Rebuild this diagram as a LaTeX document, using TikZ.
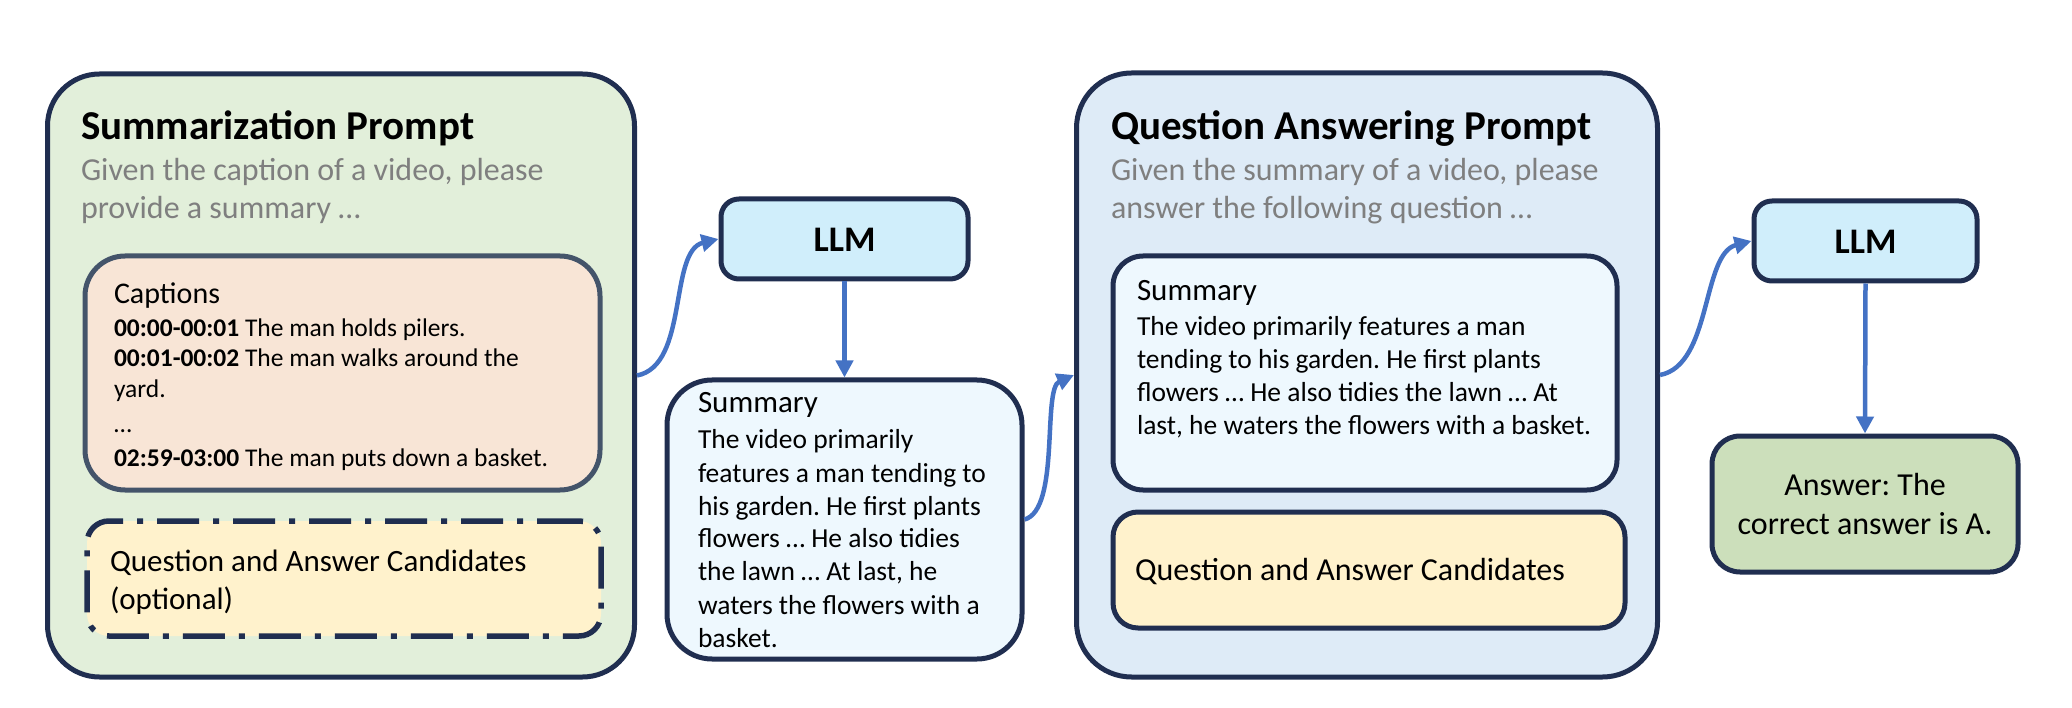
\documentclass[tikz,border=0pt]{standalone}
\usepackage{fontspec}
\setmainfont{Carlito}
\usetikzlibrary{arrows.meta}
\definecolor{navy}{RGB}{32,46,80}
\definecolor{greenfill}{RGB}{226,239,218}
\definecolor{peach}{RGB}{248,229,214}
\definecolor{peachline}{RGB}{68,84,106}
\definecolor{yellowfill}{RGB}{255,242,204}
\definecolor{llmfill}{RGB}{208,238,251}
\definecolor{sumfill}{RGB}{238,248,254}
\definecolor{qafill}{RGB}{222,235,247}
\definecolor{ansfill}{RGB}{204,223,187}
\definecolor{arrowblue}{RGB}{68,114,196}
\definecolor{greytext}{RGB}{127,127,127}
\newcommand{\fsz}[1]{\fontsize{#1}{#1}\selectfont}
\tikzset{
  box/.style={draw=navy, line width=5pt, inner sep=0pt},
  txt/.style={anchor=base west, inner sep=0pt, outer sep=0pt},
  ctxt/.style={anchor=base, inner sep=0pt, outer sep=0pt},
  arr/.style={draw=arrowblue, line width=4.5pt, -{Triangle[length=17pt,width=17pt]}},
}
\begin{document}
\frenchspacing
\begin{tikzpicture}[x=1pt,y=-1pt]
\useasboundingbox (0,0) rectangle (2072,708);
% ---- left prompt box
\node[box, fill=greenfill, rounded corners=52pt, minimum width=587pt, minimum height=603pt] (green) at (341,375.5) {};
\node[txt, font=\fsz{41}\bfseries] (t1) at (81,140) {Summarization Prompt};
\node[txt, font=\fsz{32}, text=greytext] (g1) at (81,180.5) {Given the caption of a video, please};
\node[txt, font=\fsz{32}, text=greytext] (g2) at (81,219) {provide a summary …};
\node[box, draw=peachline, fill=peach, rounded corners=40pt, minimum width=515pt, minimum height=234pt] (cap) at (342.5,373) {};
\node[txt, font=\fsz{30}] (ct) at (114,304) {Captions};
\node[txt, font=\fsz{25.5}] (c1) at (114,337) {\textbf{00:00-00:01} The man holds pilers.};
\node[txt, font=\fsz{25.5}] (c2) at (114,367) {\textbf{00:01-00:02} The man walks around the};
\node[txt, font=\fsz{25.5}] (c3) at (114,397) {yard.};
\node[txt, font=\fsz{25.5}] (c4) at (114,432) {…};
\node[txt, font=\fsz{25.5}] (c5) at (114,466) {\textbf{02:59-03:00} The man puts down a basket.};
\node[box, line width=5.5pt, fill=yellowfill, rounded corners=22pt, minimum width=514pt, minimum height=115pt, dash pattern=on 42pt off 14pt on 6pt off 14pt] (qac1) at (344,578.5) {};
\node[txt, font=\fsz{31}] (q1) at (110,571) {Question and Answer Candidates};
\node[txt, font=\fsz{31}] (q2) at (110,609) {(optional)};
% ---- first LLM
\node[box, fill=llmfill, rounded corners=18pt, minimum width=247pt, minimum height=80pt] (llm1) at (844.5,239) {};
\node[ctxt, font=\fsz{36}\bfseries] (l1) at (844.5,252) {LLM};
\node[box, fill=sumfill, rounded corners=45pt, minimum width=355pt, minimum height=279pt] (sum1) at (844.5,519.5) {};
\node[txt, font=\fsz{31}] (s0) at (698,413) {Summary};
\node[txt, font=\fsz{27.5}] (s1) at (698,448) {The video primarily};
\node[txt, font=\fsz{27.5}] (s2) at (698,482) {features a man tending to};
\node[txt, font=\fsz{27.5}] (s3) at (698,515) {his garden. He first plants};
\node[txt, font=\fsz{27.5}] (s4) at (698,547) {flowers … He also tidies};
\node[txt, font=\fsz{27.5}] (s5) at (698,580) {the lawn … At last, he};
\node[txt, font=\fsz{27.5}] (s6) at (698,614) {waters the flowers with a};
\node[txt, font=\fsz{27.5}] (s7) at (698,647) {basket.};
% ---- QA prompt box
\node[box, fill=qafill, rounded corners=55pt, minimum width=581pt, minimum height=604pt] (qa) at (1367,375) {};
\node[txt, font=\fsz{41}\bfseries] (t2) at (1111,140) {Question Answering Prompt};
\node[txt, font=\fsz{32}, text=greytext] (g3) at (1111,180.5) {Given the summary of a video, please};
\node[txt, font=\fsz{32}, text=greytext] (g4) at (1111,219) {answer the following question …};
\node[box, fill=sumfill, rounded corners=30pt, minimum width=504pt, minimum height=234pt] (sum2) at (1365,373) {};
\node[txt, font=\fsz{31}] (r0) at (1137,301) {Summary};
\node[txt, font=\fsz{27.5}] (r1) at (1137,336) {The video primarily features a man};
\node[txt, font=\fsz{27.5}] (r2) at (1137,369) {tending to his garden. He first plants};
\node[txt, font=\fsz{27.5}] (r3) at (1137,401.5) {flowers … He also tidies the lawn … At};
\node[txt, font=\fsz{27.5}] (r4) at (1137,434.5) {last, he waters the flowers with a basket.};
\node[box, fill=yellowfill, rounded corners=25pt, minimum width=512pt, minimum height=116pt] (qac2) at (1369,570) {};
\node[txt, font=\fsz{32}] (q3) at (1135,580) {Question and Answer Candidates};
% ---- second LLM and answer
\node[box, fill=llmfill, rounded corners=18pt, minimum width=223pt, minimum height=80pt] (llm2) at (1865.5,241) {};
\node[ctxt, font=\fsz{36}\bfseries] (l2) at (1865.5,254) {LLM};
\node[box, fill=ansfill, rounded corners=28pt, minimum width=306pt, minimum height=136pt] (ans) at (1865,504) {};
\node[ctxt, font=\fsz{32}] (a1) at (1865,495) {Answer: The};
\node[ctxt, font=\fsz{32}] (a2) at (1865,534) {correct answer is A.};
% ---- connectors
\draw[arr] (green.east) .. controls +(52,-10) and +(-50,12) .. (llm1.west);
\draw[arr] (llm1.south) -- (sum1.north);
\draw[arr] (sum1.east) .. controls +(36,-10) and +(-32,14) .. (qa.west);
\draw[arr] (qa.east) .. controls +(52,-10) and +(-50,13) .. (llm2.west);
\draw[arr] (llm2.south) -- (ans.north);
\end{tikzpicture}
\end{document}
